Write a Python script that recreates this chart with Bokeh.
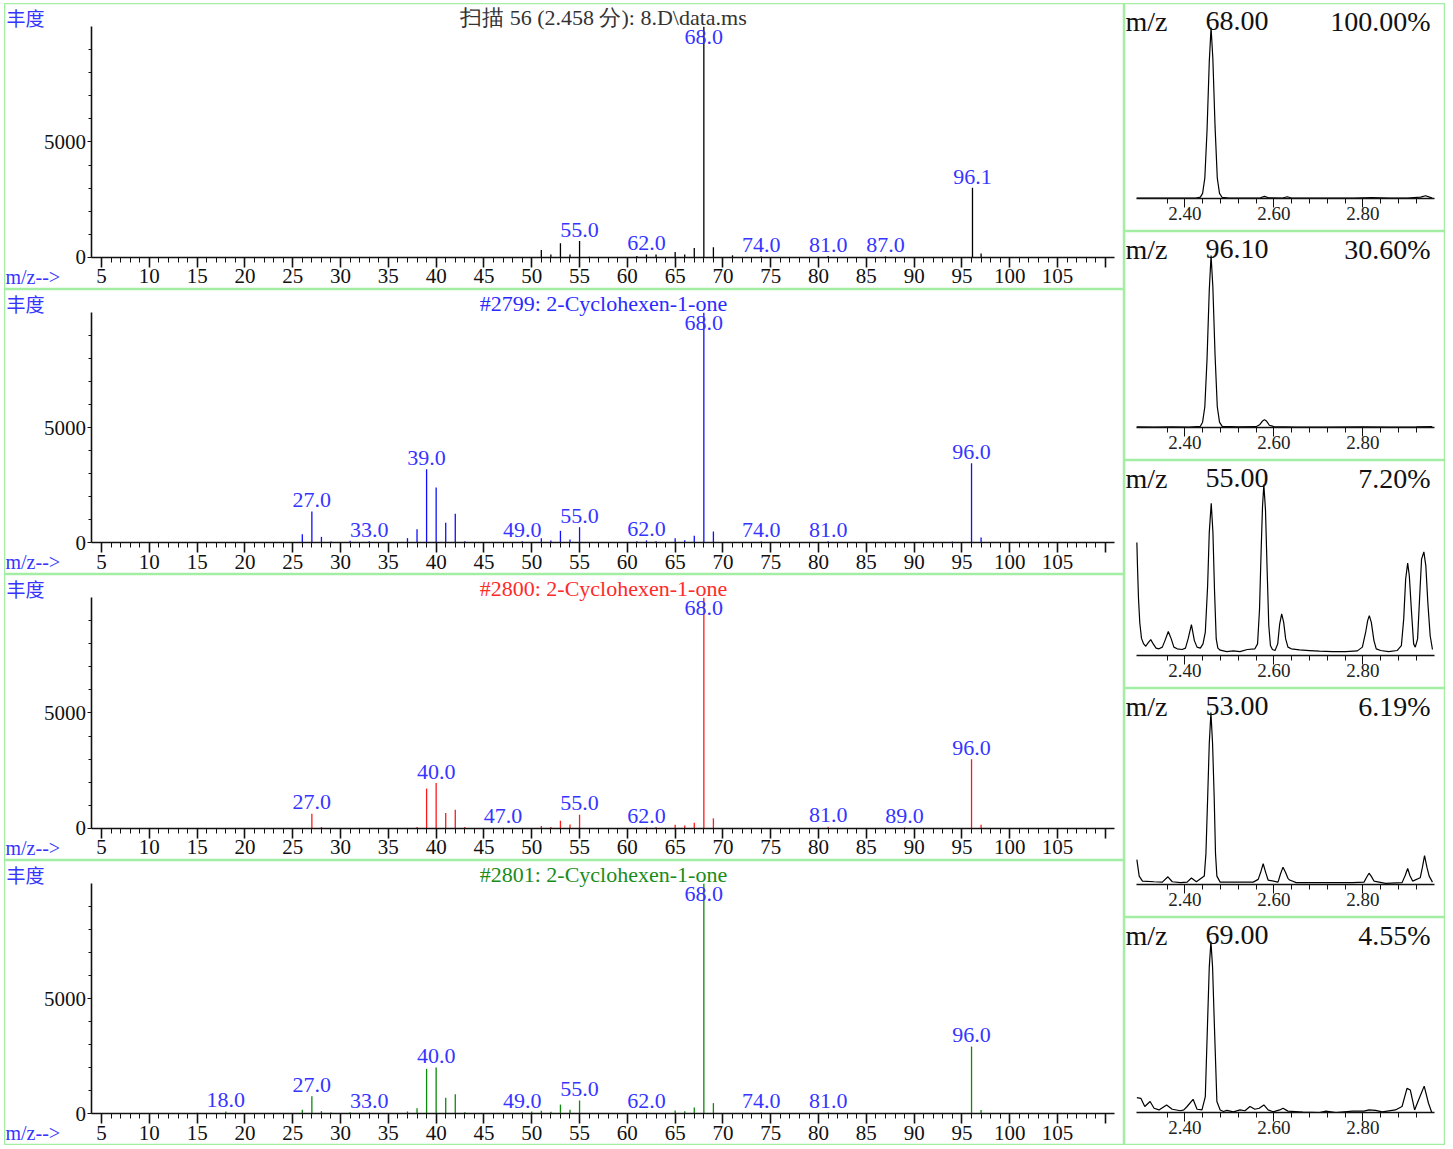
from bokeh.plotting import figure
from bokeh.models import (LinearAxis, FixedTicker, Range1d, Label, ColumnDataSource,
                          PrintfTickFormatter, Spacer)
from bokeh.layouts import row, column
from bokeh.embed import file_html
from bokeh.resources import INLINE
from bokeh.core.properties import value

# ---------------- data: mass spectra ----------------
scan_mz = [51, 52, 53, 54, 55, 56, 61, 62, 63, 65, 66, 67, 68, 69, 71, 74, 81, 87, 96.1, 97]
scan_ab = [319, 130, 609, 130, 710, 30, 60, 130, 130, 232, 130, 406, 9990, 435, 90, 40, 60, 40, 3013, 174]
scan_labels = [55, 62, 68, 74, 81, 87, 96.1]

ref1_mz = [26, 27, 28, 29, 31, 33, 37, 38, 39, 40, 41, 42, 43, 49, 51, 52, 53, 54, 55,
           61, 62, 63, 65, 66, 67, 68, 69, 74, 81, 94, 96, 97]
ref1_ab = [362, 1348, 246, 40, 80, 60, 190, 580, 3188, 2391, 855, 1246, 50, 60, 190, 90, 507, 130, 667,
           60, 90, 60, 190, 100, 290, 9990, 478, 40, 50, 40, 3450, 217]
ref1_labels = [27, 33, 39, 49, 55, 62, 68, 74, 81, 96]

ref2_mz = [27, 28, 38, 39, 40, 41, 42, 43, 47, 51, 52, 53, 54, 55, 62, 63, 65, 66, 67, 68, 69, 81, 89, 96, 97]
ref2_ab = [638, 60, 60, 1725, 1971, 667, 812, 60, 30, 100, 60, 333, 174, 594, 40, 60, 160, 120, 246,
           9990, 435, 70, 40, 3000, 160]
ref2_labels = [27, 40, 47, 55, 62, 68, 81, 89, 96]

ref3_mz = [15, 18, 26, 27, 28, 29, 31, 33, 37, 38, 39, 40, 41, 42, 43, 49, 50, 51, 52, 53, 54, 55,
           62, 65, 66, 67, 68, 69, 74, 81, 96, 97]
ref3_ab = [30, 90, 165, 745, 104, 45, 60, 40, 90, 224, 1938, 1997, 686, 835, 60, 40, 90, 120, 75, 387,
           165, 566, 40, 130, 100, 260, 9990, 450, 40, 40, 2913, 150]
ref3_labels = [18, 27, 33, 40, 49, 55, 62, 68, 74, 81, 96]

spec_titles = ["扫描 56 (2.458 分): 8.D\\data.ms",
               "#2799: 2-Cyclohexen-1-one",
               "#2800: 2-Cyclohexen-1-one",
               "#2801: 2-Cyclohexen-1-one"]
y_ticks = [0, 5000]
x_ticks = list(range(5, 111, 5))

# ---------------- data: extracted ion chromatograms ----------------
ion_mz = [68.00, 96.10, 55.00, 53.00, 69.00]
ion_pct = [100.00, 30.60, 7.20, 6.19, 4.55]

eic1_t = [2.292, 2.32, 2.36, 2.40, 2.425, 2.435, 2.440, 2.445, 2.450, 2.455, 2.459, 2.463, 2.468,
          2.473, 2.478, 2.484, 2.50, 2.54, 2.570, 2.579, 2.588, 2.62, 2.630, 2.640, 2.70, 2.78,
          2.82, 2.86, 2.90, 2.930, 2.941, 2.950, 2.956]
eic1_i = [0.3, 0.2, 0.3, 0.2, 0.3, 0.8, 3, 12, 40, 80, 100, 82, 42, 12, 3, 0.6, 0.3, 0.2, 0.4,
          1.2, 0.4, 0.3, 1.0, 0.3, 0.2, 0.2, 0.5, 0.2, 0.3, 0.8, 1.6, 0.8, 0.3]

eic2_t = [2.292, 2.33, 2.37, 2.41, 2.435, 2.440, 2.445, 2.450, 2.455, 2.459, 2.463, 2.468, 2.473,
          2.478, 2.484, 2.52, 2.560, 2.568, 2.574, 2.579, 2.584, 2.590, 2.60, 2.65, 2.72, 2.80,
          2.86, 2.92, 2.956]
eic2_i = [0.3, 0.2, 0.3, 0.2, 0.6, 3, 12, 40, 80, 100, 82, 42, 12, 3, 0.6, 0.3, 0.4, 1.5, 3.5,
          4.5, 3.5, 1.2, 0.4, 0.2, 0.2, 0.3, 0.2, 0.3, 0.5]

eic3_t = [2.2923, 2.2937, 2.2960, 2.2989, 2.3027, 2.3071, 2.3123, 2.3175, 2.3235, 2.3294, 2.3354,
          2.3420, 2.3495, 2.3554, 2.3629, 2.3695, 2.3755, 2.3829, 2.3941, 2.4015, 2.4074, 2.4149,
          2.4215, 2.4275, 2.4349, 2.4409, 2.4461, 2.4513, 2.4550, 2.4594, 2.4632, 2.4669, 2.4706,
          2.4743, 2.4795, 2.4944, 2.5092, 2.5241, 2.5404, 2.5575, 2.5635, 2.5679, 2.5716, 2.5746,
          2.5776, 2.5813, 2.5850, 2.5887, 2.5924, 2.5969, 2.6028, 2.6088, 2.6132, 2.6177, 2.6222,
          2.6266, 2.6318, 2.6392, 2.6578, 2.6801, 2.7024, 2.7321, 2.7618, 2.7878, 2.7990, 2.8064,
          2.8109, 2.8146, 2.8191, 2.8250, 2.8302, 2.8399, 2.8584, 2.8770, 2.8867, 2.8919, 2.8963,
          2.9008, 2.9045, 2.9090, 2.9142, 2.9179, 2.9231, 2.9275, 2.9320, 2.9372, 2.9416, 2.9461,
          2.9513, 2.9565]
eic3_i = [66, 52, 33, 19, 10, 7, 5.4, 7.4, 9.3, 6.6, 4.3, 3.9, 4.9, 8.7, 14, 9.7, 4.9, 3.9, 3.5,
          4.3, 9.7, 18, 8.7, 4.9, 4.3, 6.8, 13.6, 40.8, 72, 89, 72, 37, 9.7, 4.3, 3.1, 2.3, 2.7,
          2.3, 3.5, 3.9, 6.8, 27, 62, 87, 100, 85, 50, 17.5, 5.8, 3.5, 2.9, 6.8, 18.4, 24.3, 19.4,
          9.7, 4.9, 3.9, 3.3, 2.9, 2.5, 2.3, 2.3, 2.7, 4.9, 13.6, 20.4, 23.3, 19.4, 8.7, 3.9, 2.9,
          2.3, 2.9, 5.8, 21.4, 44.7, 54, 46.6, 27.2, 6.8, 4.9, 9.7, 33, 56.3, 60.6, 52.4, 31,
          11.7, 3.5]

eic4_t = [2.2923, 2.2975, 2.3049, 2.3309, 2.3495, 2.3621, 2.3718, 2.3903, 2.4052, 2.4149, 2.4260,
          2.4438, 2.4475, 2.4513, 2.455, 2.4587, 2.4624, 2.4661, 2.469, 2.4721, 2.4795, 2.5538,
          2.5649, 2.5705, 2.5761, 2.5817, 2.5872, 2.6095, 2.6150, 2.6207, 2.6262, 2.6318, 2.6355,
          2.6504, 2.7024, 2.7767, 2.8027, 2.8083, 2.8139, 2.8195, 2.8250, 2.8510, 2.8882, 2.8950,
          2.9008, 2.9060, 2.9120, 2.9290, 2.9340, 2.9387, 2.9440, 2.9491, 2.9565]
eic4_i = [14.4, 4.8, 1.9, 1.5, 1.3, 4.4, 1.5, 1.0, 1.3, 3.7, 1.5, 4.8, 18, 50, 82, 100, 82, 50, 18,
          4.8, 1.3, 1.3, 2.9, 7, 12, 7, 2.5, 1.3, 6, 10, 7, 3.5, 2.5, 1.0, 1.0, 1.0, 1.3, 4, 6.5,
          4.5, 1.9, 0.6, 1.0, 5, 9.2, 5, 1.9, 3.8, 10, 16.7, 10, 4.8, 1.3]

eic5_t = [2.2923, 2.3012, 2.3101, 2.3220, 2.3309, 2.3420, 2.3591, 2.3718, 2.3903, 2.3978, 2.4052,
          2.4186, 2.4275, 2.4386, 2.4461, 2.4513, 2.455, 2.4587, 2.4624, 2.4661, 2.4721, 2.4795,
          2.4869, 2.4944, 2.5092, 2.5241, 2.5352, 2.5464, 2.5575, 2.5672, 2.5776, 2.5872, 2.5984,
          2.6133, 2.6207, 2.6318, 2.6653, 2.7024, 2.7173, 2.7396, 2.7767, 2.8027, 2.8139, 2.8287,
          2.8436, 2.8733, 2.8882, 2.8993, 2.9068, 2.9164, 2.9253, 2.9379, 2.9476, 2.9550]
eic5_i = [8.7, 8.3, 3.5, 6.4, 2.5, 1.5, 4.4, 1.9, 1.0, 1.5, 3.5, 7.7, 1.9, 1.5, 9.3, 54, 85, 100,
          85, 54, 6.4, 1.5, 0.6, 1.2, 0.4, 1.5, 1.0, 3.5, 1.9, 2.5, 4.4, 1.5, 0.4, 1.5, 2.5, 0.8,
          0.2, 0.0, 0.8, 0.0, 0.8, 0.8, 1.5, 1.2, 0.4, 1.5, 3.5, 14.1, 13.1, 1.5, 7.3, 15.4, 5.4, 0.0]

time_ticks = [2.40, 2.60, 2.80]
time_minor = [2.36, 2.44, 2.48, 2.52, 2.56, 2.64, 2.68, 2.72, 2.76, 2.84, 2.88, 2.92]

# ---------------- style ----------------
LEFT_W, RIGHT_W = 1120, 321
LEFT_H = [286, 285, 286, 285]
RIGHT_H = [228, 229, 228, 229, 228]
BORDER = "#a4eea4"
SERIF = "Liberation Serif"
CJK = "Noto Sans CJK SC"
BLUE_TXT = "#3535ff"
AX = "#111111"


def spectrum_panel(h, mz, ab, labels, bar_color, title, title_color):
    p = figure(width=LEFT_W, height=h, x_range=Range1d(-5.15, 112.0),
               y_range=Range1d(-1391, 11000), x_axis_type=None, y_axis_type=None,
               toolbar_location=None, output_backend="svg", min_border=0,
               outline_line_color=BORDER, outline_line_width=1.5,
               background_fill_color="white", border_fill_color="white")
    p.segment(x0=mz, y0=[0] * len(mz), x1=mz, y1=ab, line_color=bar_color, line_width=1.3)

    lookup = dict(zip(mz, ab))
    lab_y = [min(lookup.get(m, 0) + 490, 9535) for m in labels]
    src = ColumnDataSource(dict(x=labels, y=lab_y, t=[f"{m:.1f}" for m in labels]))
    p.text(x="x", y="y", text="t", source=src, text_font=value(SERIF), text_font_size="22px",
           text_color=BLUE_TXT, text_align="center", text_baseline="middle")

    xa = LinearAxis(fixed_location=0, bounds=(4, 111),
                    ticker=FixedTicker(ticks=x_ticks, minor_ticks=list(range(5, 111))),
                    major_label_overrides={110: ""})
    xa.axis_line_color = AX
    xa.axis_line_width = 1.6
    xa.major_tick_out, xa.major_tick_in = 10, 0
    xa.minor_tick_out, xa.minor_tick_in = 5, 0
    xa.major_tick_line_width = 1.6
    xa.major_tick_line_color = AX
    xa.minor_tick_line_color = AX
    xa.major_label_standoff = 2
    xa.major_label_text_font = SERIF
    xa.major_label_text_font_size = "21px"
    xa.major_label_text_color = AX
    p.add_layout(xa, "below")

    ya = LinearAxis(fixed_location=4, bounds=(0, 10000),
                    ticker=FixedTicker(ticks=y_ticks, minor_ticks=list(range(1000, 10000, 1000))))
    ya.axis_line_color = AX
    ya.axis_line_width = 1.6
    ya.major_tick_out, ya.major_tick_in = 4, 0
    ya.minor_tick_out, ya.minor_tick_in = 3, 0
    ya.major_tick_line_color = AX
    ya.minor_tick_line_color = AX
    ya.major_label_standoff = 2
    ya.major_label_text_font = SERIF
    ya.major_label_text_font_size = "21px"
    ya.major_label_text_color = AX
    p.add_layout(ya, "left")

    p.add_layout(Label(x=2, y=h - 14, x_units="screen", y_units="screen", text="丰度",
                       text_font=CJK, text_font_size="19px", text_color=BLUE_TXT,
                       text_baseline="middle"))
    p.add_layout(Label(x=1, y=12.5, x_units="screen", y_units="screen", text="m/z-->",
                       text_font=SERIF, text_font_size="20px", text_color=BLUE_TXT,
                       text_baseline="middle"))
    p.add_layout(Label(x=57.5, y=h - 13.5, x_units="data", y_units="screen", text=title,
                       text_font=SERIF, text_font_size="22px", text_color=title_color,
                       text_align="center", text_baseline="middle"))
    return p


def eic_panel(h, t, inten, mzv, pct):
    p = figure(width=RIGHT_W, height=h, x_range=Range1d(2.2645, 2.9858),
               y_range=Range1d(-19.3, 114.0), x_axis_type=None, y_axis_type=None,
               toolbar_location=None, output_backend="svg", min_border=0,
               outline_line_color=BORDER, outline_line_width=1.5,
               background_fill_color="white", border_fill_color="white")
    p.line(t, inten, line_color="#000000", line_width=1.2)

    xa = LinearAxis(fixed_location=0, bounds=(2.2915, 2.961),
                    ticker=FixedTicker(ticks=time_ticks, minor_ticks=time_minor),
                    formatter=PrintfTickFormatter(format="%.2f"))
    xa.axis_line_color = AX
    xa.axis_line_width = 1.4
    xa.major_tick_out, xa.major_tick_in = 9, 0
    xa.minor_tick_out, xa.minor_tick_in = 5, 0
    xa.major_tick_line_color = AX
    xa.minor_tick_line_color = AX
    xa.major_label_standoff = 0
    xa.major_label_text_font = SERIF
    xa.major_label_text_font_size = "19px"
    xa.major_label_text_color = "#222222"
    p.add_layout(xa, "below")

    for txt, xx, al in (("m/z", 1, "left"), (f"{mzv:.2f}", 81, "left"), (f"{pct:.2f}%", 306, "right")):
        p.add_layout(Label(x=xx, y=h - 17.5, x_units="screen", y_units="screen", text=txt,
                           text_font=SERIF, text_font_size="28px", text_color=AX,
                           text_align=al, text_baseline="middle"))
    return p


left = [
    spectrum_panel(LEFT_H[0], scan_mz, scan_ab, scan_labels, "#000000", spec_titles[0], "#333333"),
    spectrum_panel(LEFT_H[1], ref1_mz, ref1_ab, ref1_labels, "#1010ff", spec_titles[1], "#2a2aff"),
    spectrum_panel(LEFT_H[2], ref2_mz, ref2_ab, ref2_labels, "#ff1a1a", spec_titles[2], "#ff2a2a"),
    spectrum_panel(LEFT_H[3], ref3_mz, ref3_ab, ref3_labels, "#0c8a0c", spec_titles[3], "#1a8c1a"),
]
eics = [(eic1_t, eic1_i), (eic2_t, eic2_i), (eic3_t, eic3_i), (eic4_t, eic4_i), (eic5_t, eic5_i)]
right = [eic_panel(RIGHT_H[k], eics[k][0], eics[k][1], ion_mz[k], ion_pct[k]) for k in range(5)]

page = column(Spacer(height=3), row(Spacer(width=4), column(*left), column(*right)))
open("out.html", "w").write(file_html(page, INLINE))
